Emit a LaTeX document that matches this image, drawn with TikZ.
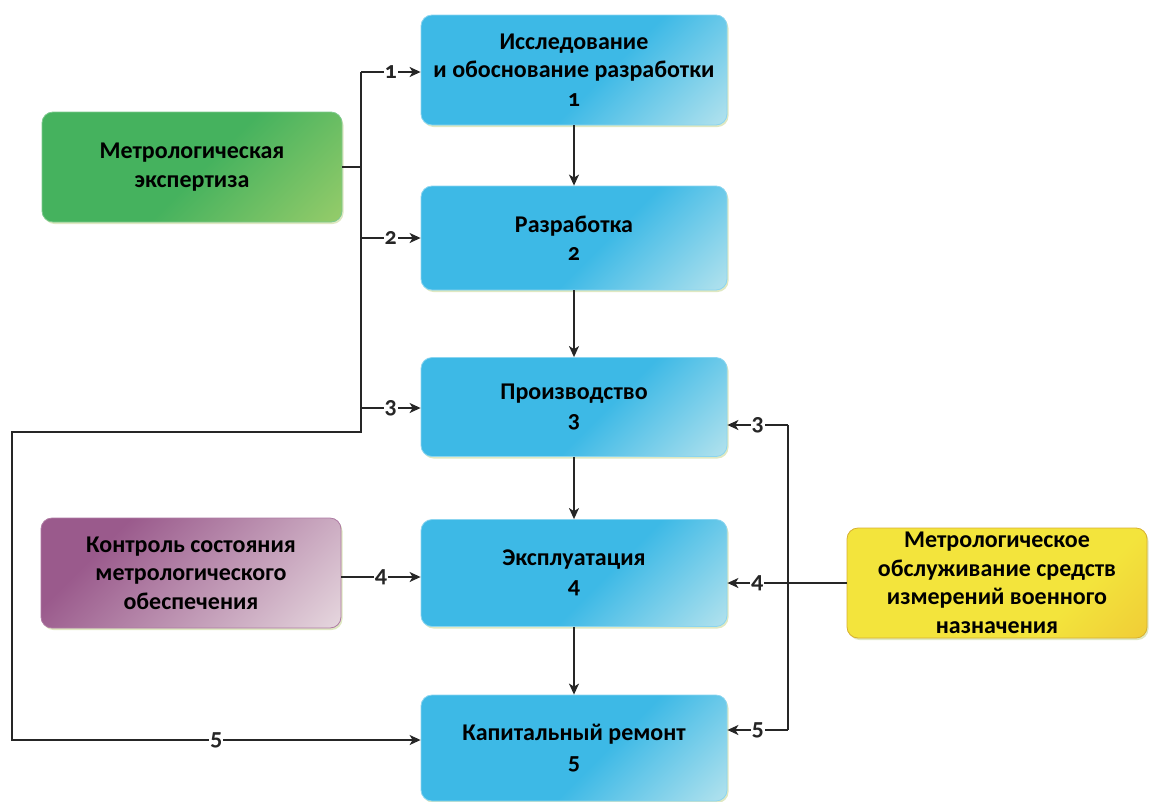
\documentclass[tikz,border=0pt]{standalone}
\usepackage{fontspec}
\setmainfont{Carlito}[Numbers=OldStyle]
\usetikzlibrary{arrows.meta,shadows}

% fill colours
\definecolor{blueA}{HTML}{3DB9E6}
\definecolor{blueB}{HTML}{DDF1F0}
\definecolor{greenA}{HTML}{45B25E}
\definecolor{greenB}{HTML}{A6D16C}
\definecolor{purpA}{HTML}{9A5A8C}
\definecolor{purpB}{HTML}{EFE6E8}
\definecolor{yellA}{HTML}{F3E43C}
\definecolor{yellB}{HTML}{EFC234}
\definecolor{shadowc}{HTML}{C9D89A}

% diagonal gradients, saturated at top left, pale at bottom right
\pgfdeclarehorizontalshading{blueshade}{100bp}{color(0bp)=(blueA); color(56bp)=(blueA); color(96bp)=(blueB); color(100bp)=(blueB)}
\pgfdeclarehorizontalshading{greenshade}{100bp}{color(0bp)=(greenA); color(52bp)=(greenA); color(92bp)=(greenB); color(100bp)=(greenB)}
\pgfdeclarehorizontalshading{purpshade}{100bp}{color(0bp)=(purpA); color(30bp)=(purpA); color(92bp)=(purpB); color(100bp)=(purpB)}
\pgfdeclarehorizontalshading{yellshade}{100bp}{color(0bp)=(yellA); color(66bp)=(yellA); color(94bp)=(yellB); color(100bp)=(yellB)}

\tikzset{
  x=1pt, y=-1pt,
  boxbase/.style={rounded corners=11pt, align=center, inner sep=0pt,
    font=\bfseries\fontsize{24}{28.5}\selectfont, line width=0.8pt,
    drop shadow={shadow xshift=1.5pt, shadow yshift=-2pt, fill=shadowc, opacity=0.6},
    shading angle=-45},
  stage/.style={boxbase, minimum width=306pt, minimum height=104pt,
    shading=blueshade, draw=blueA!60!white},
  sidebox/.style={boxbase, minimum width=300pt, minimum height=110pt},
  expert/.style={sidebox, shading=greenshade, draw=greenA!70!white},
  control/.style={sidebox, shading=purpshade, draw=purpA!80!white},
  service/.style={sidebox, shading=yellshade, draw=yellB!90!black},
  conn/.style={line width=1.6pt, black!85},
  arr/.style={conn, -{Stealth[length=11pt, width=10pt, inset=3pt]}},
  lbl/.style={fill=white, inner sep=1pt, text=black!85,
    font=\bfseries\fontsize{24}{24}\selectfont},
}

\begin{document}
\begin{tikzpicture}
\useasboundingbox (0,0) rectangle (1149,801);

% life-cycle stages
\node[stage, minimum height=110pt] (b1) at (574,70)
  {Исследование\\и обоснование разработки\\1};
\node[stage] (b2) at (574,238) {Разработка\\2};
\node[stage, minimum height=99pt] (b3) at (574,407) {Производство\\3};
\node[stage, minimum height=107pt] (b4) at (574,573) {Эксплуатация\\4};
\node[stage, minimum height=106pt] (b5) at (574,748) {Капитальный ремонт\\5};

% side activities
\node[expert] (ex) at (192,167) {Метрологическая\\экспертиза};
\node[control] (ct) at (191,573) {Контроль состояния\\метрологического\\обеспечения};
\node[service] (sv) at (997,583) {Метрологическое\\обслуживание средств\\измерений военного\\назначения};

% sequence of stages
\draw[arr] (b1.south) -- (b2.north);
\draw[arr] (b2.south) -- (b3.north);
\draw[arr] (b3.south) -- (b4.north);
\draw[arr] (b4.south) -- (b5.north);

% expertise trunk on the left
\coordinate (jt) at (361,72);
\coordinate (jb) at (361,432);
\coordinate (lc1) at (12,432);
\coordinate (lc2) at (12,740);
\draw[conn] (ex.east) -- (ex.east -| jt);
\draw[arr] (jt) -- node[lbl]{1} (b1.west |- jt);
\draw[arr] (jt |- b2.west) -- node[lbl]{2} (b2.west);
\draw[arr] (jt |- 0,408) -- node[lbl]{3} (b3.west |- 0,408);
\draw[arr] (jt) -- (jb) -- (lc1) -- (lc2) -- node[lbl]{5} (b5.west |- lc2);

% state control
\draw[arr] (ct.east |- 0,577) -- node[lbl]{4} (b4.west |- 0,577);

% service trunk on the right
\coordinate (rt) at (788,425);
\coordinate (rb) at (788,730);
\draw[conn] (rt) -- (rb);
\draw[arr] (rt) -- node[lbl]{3} (b3.east |- rt);
\draw[arr] (sv.west) -- node[lbl, pos=0.75]{4} (b4.east |- sv.west);
\draw[arr] (rb) -- node[lbl]{5} (b5.east |- rb);
\end{tikzpicture}
\end{document}
